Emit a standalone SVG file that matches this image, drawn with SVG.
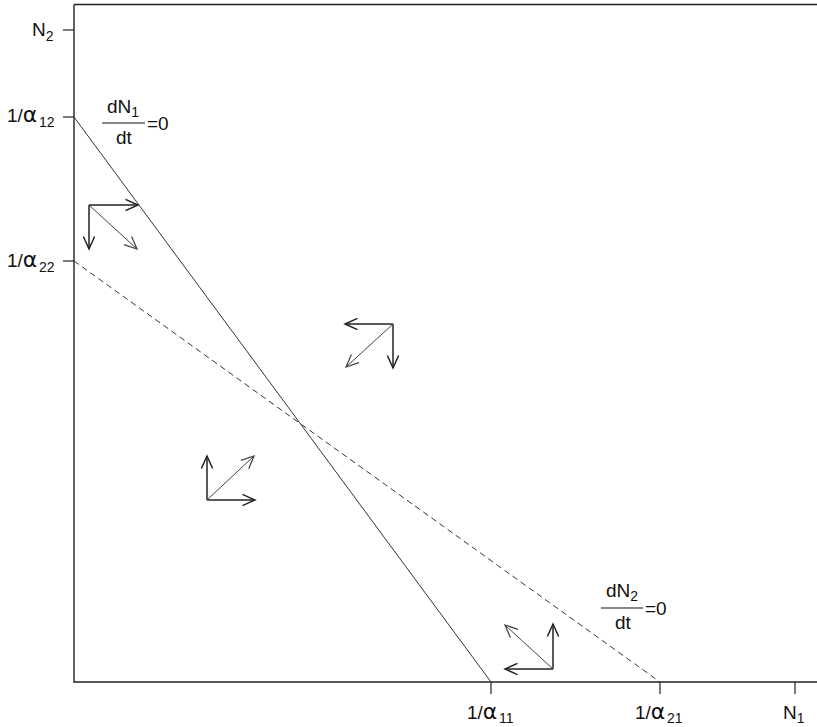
<svg xmlns="http://www.w3.org/2000/svg" width="817" height="727" viewBox="0 0 817 727">
<defs>
<marker id="ah" markerUnits="userSpaceOnUse" markerWidth="20" markerHeight="20" viewBox="-12 -8 14 16" refX="0" refY="0" orient="auto">
<path d="M-10,-4.5 L0,0 L-10,4.5" fill="none" stroke="#222" stroke-width="1.2"/>
</marker>
<marker id="ahg" markerUnits="userSpaceOnUse" markerWidth="20" markerHeight="20" viewBox="-12 -8 14 16" refX="0" refY="0" orient="auto">
<path d="M-10,-4.5 L0,0 L-10,4.5" fill="none" stroke="#444" stroke-width="1"/>
</marker>
</defs>
<style>
text{font-family:"Liberation Sans",Arial,sans-serif;font-size:19px;fill:#111}
.sub{font-size:14px}
.al{font-family:"DejaVu Sans","Liberation Sans",sans-serif;font-size:22px}
.axis{stroke:#222;stroke-width:1.4;fill:none}
.tick{stroke:#222;stroke-width:1.2}
.ncl{stroke:#333;stroke-width:1;fill:none}
.ncd{stroke:#333;stroke-width:1;fill:none;stroke-dasharray:6 4}
.ar{stroke:#222;stroke-width:1.5;marker-end:url(#ah)}
.ad{stroke:#444;stroke-width:1;marker-end:url(#ahg)}
</style>
<g id="axes">
<path class="axis" d="M74,4.5 L817,4.5 M74,4.5 L74,682 L817,682"/>
<line class="tick" x1="63" y1="30" x2="74" y2="30"/>
<line class="tick" x1="63" y1="117" x2="74" y2="117"/>
<line class="tick" x1="63" y1="261" x2="74" y2="261"/>
<line class="tick" x1="491" y1="682" x2="491" y2="694"/>
<line class="tick" x1="660" y1="682" x2="660" y2="694"/>
<line class="tick" x1="795" y1="682" x2="795" y2="694"/>
</g>
<g id="labels">
<text x="32" y="36">N<tspan class="sub" dy="5">2</tspan></text>
<text x="7" y="122">1/<tspan class="al">α</tspan><tspan class="sub" x="39" dy="5">12</tspan></text>
<text x="7" y="267">1/<tspan class="al">α</tspan><tspan class="sub" x="39" dy="5">22</tspan></text>
<text x="467" y="719">1/<tspan class="al">α</tspan><tspan class="sub" x="499" dy="4">11</tspan></text>
<text x="635" y="719">1/<tspan class="al">α</tspan><tspan class="sub" x="667" dy="4">21</tspan></text>
<text x="783" y="719">N<tspan class="sub" dy="4">1</tspan></text>
</g>
<g id="connectors">
<line class="ncl" x1="74" y1="117" x2="491" y2="682"/>
<line class="ncd" x1="74" y1="261" x2="660" y2="682"/>
</g>
<g id="label-dN1">
<text x="107" y="113">dN<tspan class="sub" dy="4">1</tspan></text>
<line x1="102" y1="123" x2="145" y2="123" stroke="#111" stroke-width="1.2"/>
<text x="116" y="144">dt</text>
<text x="147" y="130">=0</text>
</g>
<g id="label-dN2">
<text x="606" y="597">dN<tspan class="sub" dy="4">2</tspan></text>
<line x1="601" y1="608" x2="643" y2="608" stroke="#111" stroke-width="1.2"/>
<text x="615" y="629">dt</text>
<text x="645" y="615">=0</text>
</g>
<g id="arrows-1">
<line class="ar" x1="89" y1="205" x2="138" y2="205"/>
<line class="ar" x1="89" y1="205" x2="89" y2="249"/>
<line class="ad" x1="89" y1="205" x2="137" y2="249"/>
</g>
<g id="arrows-2">
<line class="ar" x1="393" y1="324" x2="345" y2="324"/>
<line class="ar" x1="393" y1="324" x2="393" y2="368"/>
<line class="ad" x1="393" y1="324" x2="346" y2="367"/>
</g>
<g id="arrows-3">
<line class="ar" x1="207" y1="500" x2="207" y2="456"/>
<line class="ar" x1="207" y1="500" x2="255" y2="500"/>
<line class="ad" x1="207" y1="500" x2="254" y2="456"/>
</g>
<g id="arrows-4">
<line class="ar" x1="553" y1="669" x2="505" y2="669"/>
<line class="ar" x1="553" y1="669" x2="553" y2="624"/>
<line class="ad" x1="553" y1="669" x2="505" y2="625"/>
</g>
</svg>
